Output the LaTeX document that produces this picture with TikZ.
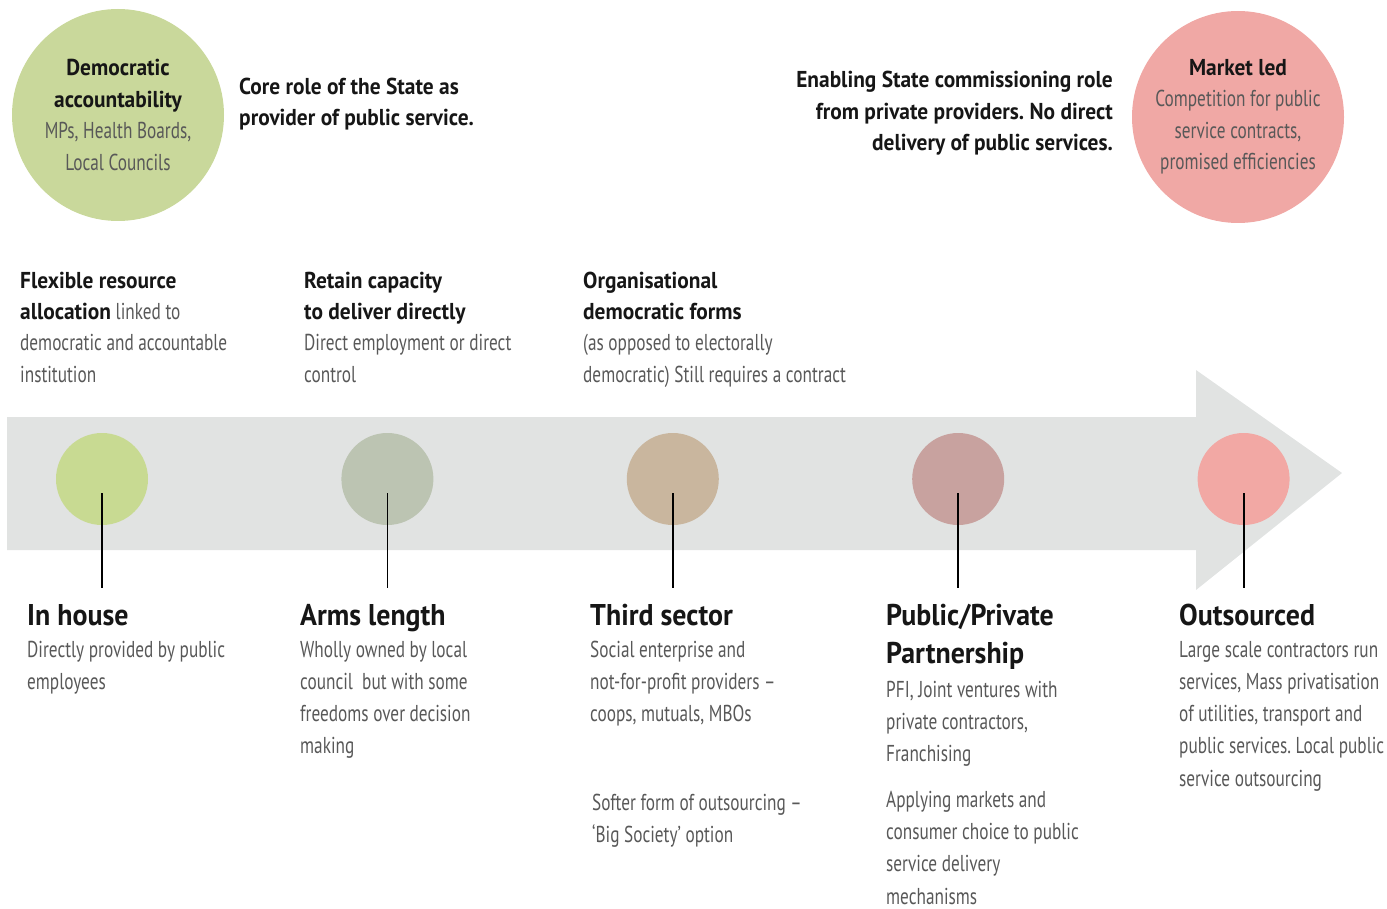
\documentclass[tikz,border=0pt]{standalone}
\usepackage{fontspec}
\setmainfont{PT Sans}[FakeStretch=0.75,BoldFeatures={FakeStretch=0.93}]
\usepackage{xcolor}
\usetikzlibrary{positioning}
\frenchspacing

\definecolor{ink}{RGB}{22,22,22}
\definecolor{txtgray}{RGB}{88,88,88}
\definecolor{arrowgray}{RGB}{225,227,226}
\definecolor{demgreen}{RGB}{201,216,155}
\definecolor{marketpink}{RGB}{240,168,165}
\definecolor{dotA}{RGB}{200,218,146}
\definecolor{dotB}{RGB}{188,196,178}
\definecolor{dotC}{RGB}{201,182,158}
\definecolor{dotD}{RGB}{200,162,159}
\definecolor{dotE}{RGB}{242,168,164}

\newcommand{\keyword}[1]{{\color{ink}\bfseries #1}}

\begin{document}
\begin{tikzpicture}[x=1pt,y=-1pt,
      bigcircle/.style={
         circle,
         inner sep=0pt,
         minimum size=212pt,
         align=center,
         text=txtgray,
         font=\fontsize{23}{31.5}\selectfont},
      dot/.style={
         circle,
         inner sep=0pt,
         minimum size=92pt},
      stem/.style={draw=black, line width=1.8pt},
      body/.style={
         inner sep=0pt,
         anchor=base west,
         align=left,
         text=txtgray,
         font=\fontsize{23}{32.3}\selectfont},
      note/.style={
         body,
         font=\fontsize{23}{31.3}\selectfont},
      statement/.style={
         inner sep=0pt,
         text=ink,
         font=\bfseries\fontsize{23}{31.5}\selectfont},
      title/.style={
         inner sep=0pt,
         anchor=base west,
         align=left,
         text=ink,
         font=\bfseries\fontsize{30}{38}\selectfont},
      node distance=193pt
      ]
    \useasboundingbox (0,0) rectangle (1387,909);

    % the big arrow in the background
    \fill[arrowgray] (7,417) -- (1196,417) -- (1196,370) -- (1342,473)
                     -- (1196,590) -- (1196,550) -- (7,550) -- cycle;

    % the two ends of the scale
    \node[bigcircle,fill=demgreen] (dem) at (118,115)
         {\keyword{Democratic}\\\keyword{accountability}\\MPs, Health Boards,\\Local Councils};
    \node[bigcircle,fill=marketpink] (market) at (1238,117)
         {\keyword{Market led}\\Competition for public\\service contracts,\\promised efficiencies};

    % multi-line nodes sit on the baseline of their last line
    \node[statement,anchor=base west,align=left] (core) at (239,126)
         {Core role of the State as\\provider of public service.};
    \node[statement,anchor=base east,align=right] (enabling) at (1113,151)
         {Enabling State commissioning role\\from private providers. No direct\\delivery of public services.};

    % notes above the arrow
    \node[note] (flex) at (20,382)
         {\keyword{Flexible resource}\\\keyword{allocation} linked to\\democratic and accountable\\institution};
    \node[note] (retain) at (304,382)
         {\keyword{Retain capacity}\\\keyword{to deliver directly}\\Direct employment or direct\\control};
    \node[note] (orgforms) at (583,382)
         {\keyword{Organisational}\\\keyword{democratic forms}\\(as opposed to electorally\\democratic) Still requires a contract};

    % the five steps
    \node[dot,fill=dotA] (inhouse) at (102,479) {};
    \node[dot,fill=dotB,right=of inhouse] (arms) {};
    \node[dot,fill=dotC,right=of arms] (third) {};
    \node[dot,fill=dotD,right=of third] (ppp) {};
    \node[dot,fill=dotE,right=of ppp] (outsrc) {};

    \foreach \n in {inhouse,arms,third,ppp,outsrc}{
      \coordinate (\n-foot) at ([yshift=-109pt]\n.center);
      \draw[stem] ([yshift=-14pt]\n.center) -- (\n-foot);
    }

    % labels below the arrow
    \node[title] (inhouse-t) at (27,625) {In house};
    \node[body] (inhouse-b) at (27,689.3) {Directly provided by public\\employees};

    \node[title] (arms-t) at (300,625) {Arms length};
    \node[body] (arms-b) at (300,753.9) {Wholly owned by local\\council\ \ but with some\\freedoms over decision\\making};

    \node[title] (third-t) at (590,625) {Third sector};
    \node[body] (third-b) at (590,721.6) {Social enterprise and\\not-for-profit providers --\\coops, mutuals, MBOs};
    \node[body] (third-x) at (592,842.3) {Softer form of outsourcing --\\`Big Society' option};

    \node[title] (ppp-t) at (886,663) {Public/Private\\Partnership};
    \node[body] (ppp-b) at (886,761.6) {PFI, Joint ventures with\\private contractors,\\Franchising};
    \node[body] (ppp-x) at (886,904) {Applying markets and\\consumer choice to public\\service delivery\\mechanisms};

    \node[title] (outsrc-t) at (1179,625) {Outsourced};
    \node[body] (outsrc-b) at (1179,786.2) {Large scale contractors run\\services, Mass privatisation\\of utilities, transport and\\public services. Local public\\service outsourcing};
\end{tikzpicture}
\end{document}
